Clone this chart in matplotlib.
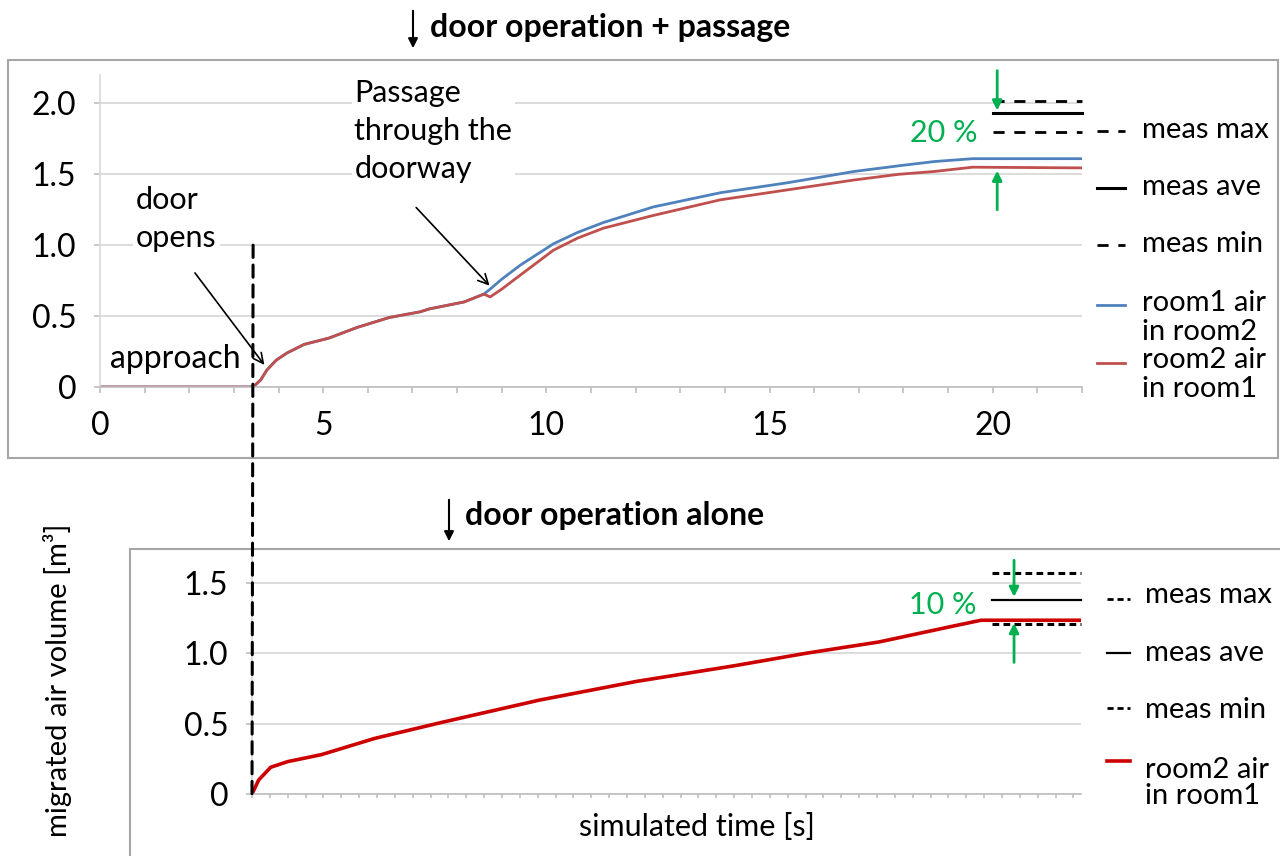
import numpy as np
import matplotlib.pyplot as plt
from matplotlib.patches import Rectangle, ConnectionPatch, FancyArrowPatch
from matplotlib.lines import Line2D

plt.rcParams['font.family'] = ['Lato', 'DejaVu Sans']

# time of door opening [s]
t_open = 3.43

# door operation + passage: simulated migrated air volume [m3]
t_top = [0, 3.43, 3.6, 3.74, 3.95, 4.19, 4.57, 5.13, 5.76, 6.48, 7.17, 7.37, 8.16,
         8.6, 8.74, 9.0, 9.42, 10.16, 10.7, 11.28, 12.4, 13.9, 15.4, 16.9, 17.9, 18.7, 19.55, 22]
room2_in_room1 = [0, 0, 0.05, 0.12, 0.19, 0.24, 0.30, 0.345, 0.42, 0.49, 0.53, 0.55, 0.60,
                  0.655, 0.635, 0.69, 0.79, 0.965, 1.05, 1.12, 1.21, 1.32, 1.39, 1.46, 1.50,
                  1.52, 1.55, 1.545]
room1_in_room2 = [0, 0, 0.05, 0.12, 0.19, 0.24, 0.30, 0.345, 0.42, 0.49, 0.53, 0.55, 0.60,
                  0.655, 0.69, 0.76, 0.86, 1.01, 1.09, 1.16, 1.27, 1.37, 1.44, 1.52, 1.56,
                  1.59, 1.61, 1.61]
meas_top = {'max': 2.02, 'ave': 1.93, 'min': 1.80}

# door operation alone
t_bot = [3.43, 3.58, 3.85, 4.23, 4.99, 6.18, 7.70, 9.87, 12.05, 14.22, 15.85, 17.48,
         19.10, 19.76, 22]
room2_alone = [0, 0.10, 0.19, 0.23, 0.28, 0.395, 0.51, 0.667, 0.80, 0.91, 1.0, 1.08,
               1.19, 1.234, 1.234]
meas_bot = {'max': 1.57, 'ave': 1.38, 'min': 1.21}

meas_span = [20, 22]

RED = '#C0504D'
BLUE = '#4F81BD'
RED2 = '#CC0000'
GREEN = '#00B050'
GRID = '#D9D9D9'
AXIS = '#BFBFBF'
FS_TICK = 23
FS_NOTE = 22
FS_LEG = 21

W, H = 1280, 856
fig = plt.figure(figsize=(W / 100, H / 100), dpi=100)


def fx(px):
    return px / W


def fy(py):
    return 1 - py / H


# panel frames
fig.add_artist(Rectangle((fx(8), fy(458)), fx(1270), (458 - 60) / H, transform=fig.transFigure,
                         fill=False, edgecolor='#A6A6A6', lw=1.5))
fig.add_artist(Rectangle((fx(130), -0.02), 1.0, fy(549) + 0.02, transform=fig.transFigure,
                         fill=False, edgecolor='#A6A6A6', lw=1.5))

ax1 = fig.add_axes([fx(100), fy(387), fx(982), 312 / H])
ax2 = fig.add_axes([fx(252), fy(794), fx(829), 245 / H])


def style(ax):
    for s in ['top', 'right']:
        ax.spines[s].set_visible(False)
    ax.spines['left'].set_color(GRID)
    ax.spines['bottom'].set_color(AXIS)
    ax.spines['left'].set_linewidth(1.2)
    ax.spines['bottom'].set_linewidth(1.2)
    ax.grid(axis='y', color=GRID, lw=1.3)
    ax.set_axisbelow(True)
    ax.tick_params(axis='both', colors=AXIS, labelcolor='black', labelsize=FS_TICK,
                   length=4, width=1.2)
    ax.tick_params(axis='y', pad=13)


# top panel
style(ax1)
ax1.plot(t_top, room1_in_room2, color=BLUE, lw=2)
ax1.plot(t_top, room2_in_room1, color=RED, lw=2)
ax1.set_xlim(0, 22)
ax1.set_ylim(0, 2.2)
ax1.set_yticks([0, 0.5, 1.0, 1.5, 2.0])
ax1.set_yticklabels(['0', '0.5', '1.0', '1.5', '2.0'])
ax1.set_xticks(np.arange(0, 23, 1))
ax1.set_xticklabels([str(v) if v % 5 == 0 else '' for v in range(0, 23)])
ax1.tick_params(axis='x', pad=13)
ax1.plot(meas_span, [meas_top['max']] * 2, color='black', lw=2, ls=(0, (4, 3.5)), clip_on=False)
ax1.plot(meas_span, [meas_top['ave']] * 2, color='black', lw=2.2, clip_on=False)
ax1.plot(meas_span, [meas_top['min']] * 2, color='black', lw=2, ls=(0, (4, 3.5)), clip_on=False)

wbox = dict(facecolor='white', edgecolor='none', pad=2)
ax1.text(0.81, 1.42, 'door\nopens', fontsize=FS_NOTE, va='top', ha='left', linespacing=1.45,
         bbox=wbox)
ax1.annotate('', xy=(3.72, 0.14), xytext=(2.09, 0.82),
             arrowprops=dict(arrowstyle='->', color='black', lw=1.2, mutation_scale=18))
ax1.text(0.22, 0.20, 'approach', fontsize=FS_TICK, va='center', ha='left')
ax1.text(5.70, 2.17, 'Passage\nthrough the\ndoorway', fontsize=FS_NOTE, va='top', ha='left',
         linespacing=1.42, bbox=wbox)
ax1.annotate('', xy=(8.77, 0.70), xytext=(7.04, 1.28),
             arrowprops=dict(arrowstyle='->', color='black', lw=1.2, mutation_scale=18))

ax1.text(19.65, 1.79, '20 %', fontsize=FS_NOTE, color=GREEN, ha='right', va='center')
ax1.annotate('', xy=(20.1, meas_top['ave']), xytext=(20.1, 2.25), annotation_clip=False,
             arrowprops=dict(arrowstyle='-|>', color=GREEN, lw=2, mutation_scale=14))
ax1.annotate('', xy=(20.1, room2_in_room1[-1]), xytext=(20.1, 1.23),
             arrowprops=dict(arrowstyle='-|>', color=GREEN, lw=2, mutation_scale=14))

# bottom panel
style(ax2)
ax2.plot(t_bot, room2_alone, color=RED2, lw=2.6)
ax2.set_xlim(t_open, 22)
ax2.set_ylim(0, 1.74)
ax2.set_yticks([0, 0.5, 1.0, 1.5])
ax2.set_yticklabels(['0', '0.5', '1.0', '1.5'])
ax2.set_xticks(np.arange(t_open, 22, 0.4))
ax2.set_xticklabels([])
ax2.tick_params(axis='x', length=3)
ax2.plot(meas_span, [meas_bot['max']] * 2, color='black', lw=2.2, ls=(0, (2.2, 1.4)), clip_on=False)
ax2.plot(meas_span, [meas_bot['ave']] * 2, color='black', lw=1.6, clip_on=False)
ax2.plot(meas_span, [meas_bot['min']] * 2, color='black', lw=2.2, ls=(0, (2.2, 1.4)), clip_on=False)
ax2.text(19.66, 1.34, '10 %', fontsize=FS_NOTE, color=GREEN, ha='right', va='center')
ax2.annotate('', xy=(20.5, meas_bot['ave']), xytext=(20.5, 1.68), annotation_clip=False,
             arrowprops=dict(arrowstyle='-|>', color=GREEN, lw=2, mutation_scale=14))
ax2.annotate('', xy=(20.5, room2_alone[-1]), xytext=(20.5, 0.915),
             arrowprops=dict(arrowstyle='-|>', color=GREEN, lw=2, mutation_scale=14))
fig.text(fx(697), fy(827), 'simulated time [s]', fontsize=FS_NOTE, ha='center', va='center')

# door opening marker spanning both panels
con = ConnectionPatch(xyA=(t_open, 1.0), coordsA=ax1.transData,
                      xyB=(t_open, 0), coordsB=ax2.transData,
                      color='black', lw=2.2, ls=(0, (4, 2.5)))
fig.add_artist(con)


# legends drawn beside each panel
def legend_rows(rows, x0, x1, xt, step):
    for y_handle, y_text, label, kw in rows:
        fig.add_artist(Line2D([fx(x0), fx(x1)], [fy(y_handle), fy(y_handle)],
                              transform=fig.transFigure, **kw))
        for i, line in enumerate(label.split('\n')):
            fig.text(fx(xt), fy(y_text + i * step), line, fontsize=FS_LEG,
                     va='center', ha='left')


dash_top = dict(color='black', lw=2, ls=(0, (4, 3.5)))
legend_rows([
    (131, 130, 'meas max', dash_top),
    (188, 187, 'meas ave', dict(color='black', lw=2.2)),
    (245, 244, 'meas min', dash_top),
    (305, 303, 'room1 air\nin room2', dict(color=BLUE, lw=2)),
    (363, 360, 'room2 air\nin room1', dict(color=RED, lw=2)),
], 1097, 1125, 1142, 29)

dash_bot = dict(color='black', lw=2, ls=(0, (2.2, 1.4)))
legend_rows([
    (599, 595, 'meas max', dash_bot),
    (653, 653, 'meas ave', dict(color='black', lw=1.6)),
    (708, 710, 'meas min', dash_bot),
    (761, 770, 'room2 air\nin room1', dict(color=RED2, lw=2.6)),
], 1107, 1130, 1145, 26)

# panel headings
fig.text(fx(430), fy(27), 'door operation + passage', fontsize=23, fontweight='bold',
         va='center', ha='left')
fig.add_artist(FancyArrowPatch((fx(413), fy(8)), (fx(413), fy(51)), transform=fig.transFigure,
                               arrowstyle='-|>', mutation_scale=14, color='black', lw=1.5))
fig.text(fx(465), fy(515), 'door operation alone', fontsize=23, fontweight='bold',
         va='center', ha='left')
fig.add_artist(FancyArrowPatch((fx(449), fy(497)), (fx(449), fy(544)), transform=fig.transFigure,
                               arrowstyle='-|>', mutation_scale=14, color='black', lw=1.5))

fig.text(fx(58), fy(680), 'migrated air volume [m³]', fontsize=21, rotation=90,
         va='center', ha='center')

fig.savefig('out.png', dpi=100, facecolor='white')
